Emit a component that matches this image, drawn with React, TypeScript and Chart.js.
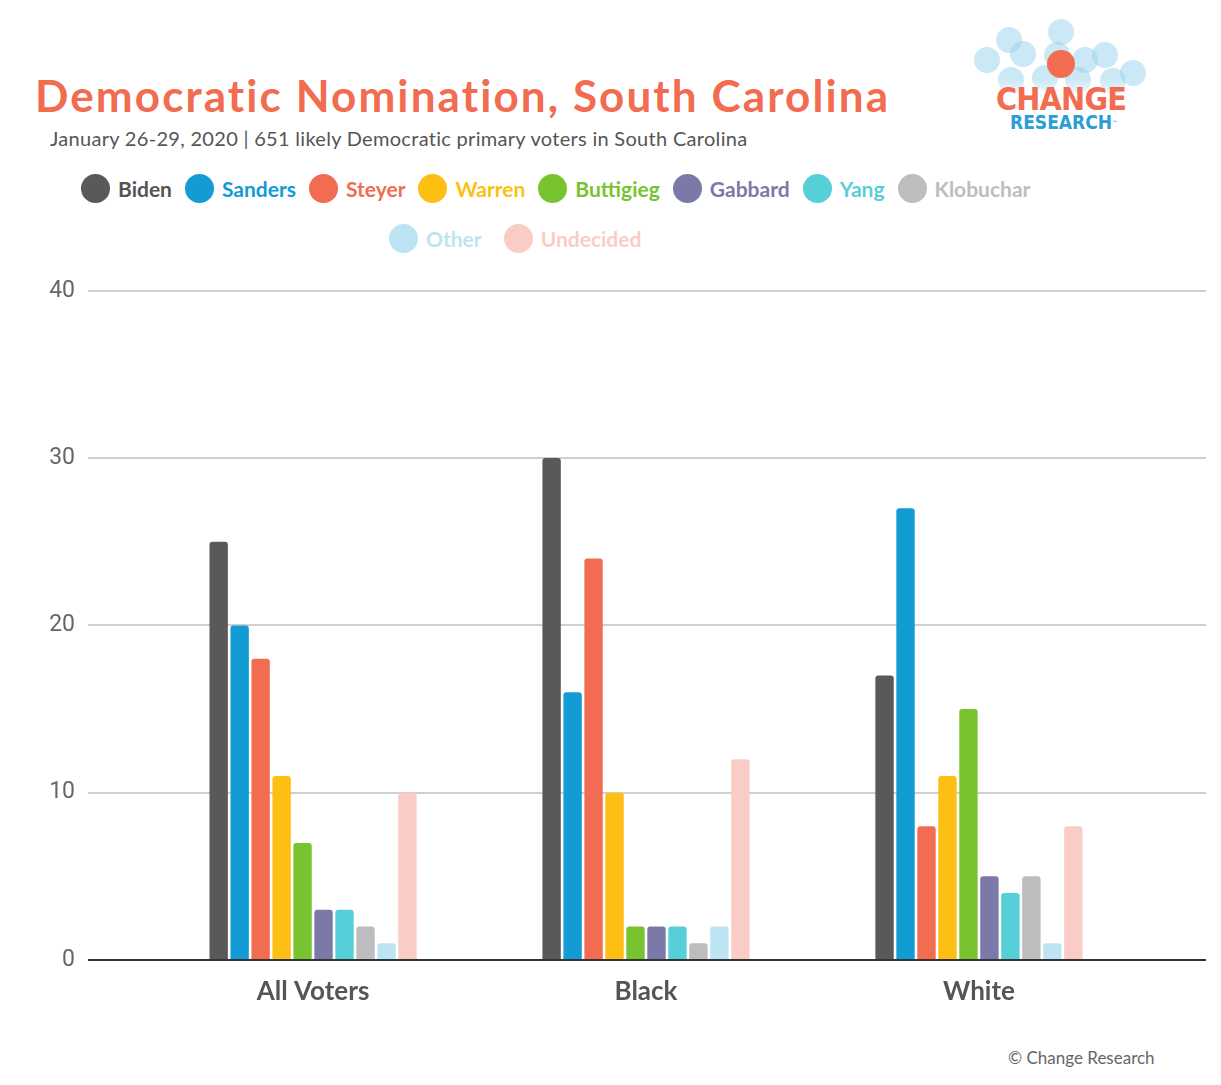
import React, { useEffect, useRef } from "react";
import { Chart, registerables } from "chart.js";

Chart.register(...registerables);

const groups = ["All Voters", "Black", "White"];
const candidates = ["Biden", "Sanders", "Steyer", "Warren", "Buttigieg", "Gabbard", "Yang", "Klobuchar", "Other", "Undecided"];
const colors = ["#59595b", "#139bd4", "#f16c50", "#fdbf14", "#78c430", "#7b79a8", "#57cfd8", "#bcbdbf", "#bde4f2", "#f9cdc6"];
const labelColors = ["#555555", "#139bd4", "#f16c50", "#fdbf14", "#78c430", "#7b79a8", "#57cfd8", "#bcbdbf", "#bde4f2", "#f9cdc6"];

const biden = [25, 30, 17];
const sanders = [20, 16, 27];
const steyer = [18, 24, 8];
const warren = [11, 10, 11];
const buttigieg = [7, 2, 15];
const gabbard = [3, 2, 5];
const yang = [3, 2, 4];
const klobuchar = [2, 1, 5];
const other = [1, 2, 1];
const undecided = [10, 12, 8];
const series = [biden, sanders, steyer, warren, buttigieg, gabbard, yang, klobuchar, other, undecided];

const yTicks = [0, 10, 20, 30, 40];

// logo bubbles, [x, y] in container pixels
const bubbles = [
  [1053, 24], [1001, 32], [979, 52], [1015, 46], [1049, 47], [1077, 52],
  [1097, 47], [1125, 65], [1003, 72], [1037, 70], [1105, 73], [1070, 72],
];

const App = () => {
  const chartRef = useRef<HTMLCanvasElement | null>(null);

  useEffect(() => {
    if (!chartRef.current) return;
    const ctx = chartRef.current.getContext("2d");
    if (!ctx) return;

    const myChart = new Chart(ctx, {
      type: "bar",
      data: {
        datasets: candidates.map((name, k) => ({
          label: name,
          data: series[k].map((v, i) => ({ x: i, y: v })),
          backgroundColor: colors[k],
          borderRadius: 3,
          categoryPercentage: 0.63,
          barPercentage: 0.876,
        })),
      },
      options: {
        responsive: true,
        maintainAspectRatio: false,
        animation: false,
        layout: { padding: { top: 15, left: 0, right: 0, bottom: 0 } },
        plugins: {
          legend: { display: false },
          tooltip: { enabled: false },
        },
        scales: {
          x: {
            type: "linear",
            offset: false,
            min: -0.676,
            max: 2.682,
            grid: { display: false, offset: false },
            border: { display: false },
            afterBuildTicks: (scale: any) => {
              scale.ticks = groups.map((_, i) => ({ value: i }));
            },
            afterFit: (scale: any) => {
              scale.height = 60;
            },
            ticks: {
              padding: 8,
              color: "#555555",
              font: { family: "Lato", size: 26, weight: "bold" },
              callback: (v: any) => groups[v],
            },
          },
          y: {
            min: 0,
            max: 40,
            afterBuildTicks: (scale: any) => {
              scale.ticks = yTicks.map((v) => ({ value: v }));
            },
            afterFit: (scale: any) => {
              scale.width = 80;
            },
            border: { display: false },
            grid: {
              drawTicks: false,
              lineWidth: 2,
              color: (c: any) => (c.tick && c.tick.value === 0 ? "#333333" : "#cfcfcf"),
            },
            ticks: {
              padding: 13,
              color: "#666666",
              font: { family: "Roboto", size: 23 },
            },
          },
        },
      },
    });

    return () => {
      myChart.destroy();
    };
  }, []);

  const legendItem = (gap: number) => (k: number) => (
    <div key={k} style={{ display: "flex", alignItems: "center", marginRight: gap }}>
      <span style={{ width: 29, height: 29, borderRadius: "50%", background: colors[k], display: "inline-block", marginRight: 8 }} />
      <span style={{ color: labelColors[k], fontWeight: 700, fontSize: 21 }}>{candidates[k]}</span>
    </div>
  );

  return (
    <div style={{ position: "relative", width: 1205, height: 1070, fontFamily: "Lato, sans-serif", background: "#fff" }}>
      <div style={{ position: "absolute", left: 27, top: 65, fontSize: 44, lineHeight: "44px", fontWeight: 700, color: "#f16c50", whiteSpace: "nowrap", letterSpacing: 2.1, fontVariantLigatures: "none" }}>
        Democratic Nomination, South Carolina
      </div>
      <div style={{ position: "absolute", left: 42, top: 120, fontSize: 20, lineHeight: "20px", color: "#555", whiteSpace: "nowrap", letterSpacing: 0.3 }}>
        January 26-29, 2020 | 651 likely Democratic primary voters in South Carolina
      </div>

      <div style={{ position: "absolute", left: 955, top: 0, width: 200, height: 130 }}>
        {bubbles.map(([x, y], i) => (
          <span key={i} style={{ position: "absolute", left: x - 955 - 13, top: y - 13, width: 26, height: 26, borderRadius: "50%", background: "rgba(150, 210, 235, 0.5)" }} />
        ))}
        <span style={{ position: "absolute", left: 1053 - 955 - 14, top: 56 - 14, width: 28, height: 28, borderRadius: "50%", background: "#f16c50" }} />
        <div style={{ position: "absolute", left: 32, top: 70, width: 134, height: 24, background: "linear-gradient(rgba(255,255,255,0), #fff)" }} />
        <div style={{ position: "absolute", left: 33, top: 74, fontSize: 32, lineHeight: "34px", fontWeight: 700, color: "#f16c50", letterSpacing: -0.8, fontFamily: "'DejaVu Sans Condensed', 'Liberation Sans Narrow', sans-serif" }}>
          CHANGE
        </div>
        <div style={{ position: "absolute", left: 47, top: 105, fontSize: 19, lineHeight: "19px", fontWeight: 700, color: "#2a9fd6", fontFamily: "'DejaVu Sans Condensed', 'Liberation Sans Narrow', sans-serif" }}>
          RESEARCH<span style={{ fontSize: 6, verticalAlign: "top" }}>™</span>
        </div>
      </div>

      <div style={{ position: "absolute", left: 73, top: 166, display: "flex" }}>
        {[0, 1, 2, 3, 4, 5, 6, 7].map(legendItem(13))}
      </div>
      <div style={{ position: "absolute", left: 381, top: 216, display: "flex" }}>
        {[8, 9].map(legendItem(22))}
      </div>

      <div style={{ position: "absolute", left: 0, top: 256, width: 1198, height: 756 }}>
        <canvas ref={chartRef}></canvas>
      </div>

      <div style={{ position: "absolute", left: 1000, top: 1039, fontSize: 17, color: "#666", whiteSpace: "nowrap" }}>
        © Change Research
      </div>
    </div>
  );
};

export default App;
